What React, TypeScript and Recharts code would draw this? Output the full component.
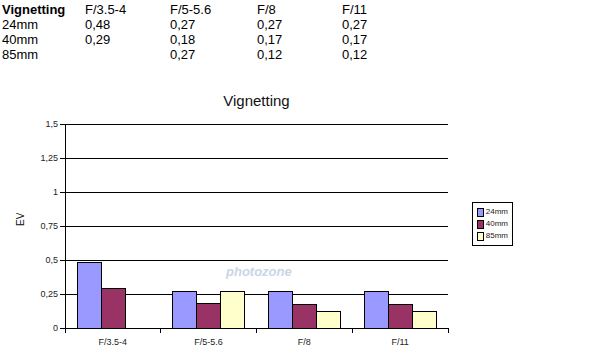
import React from 'react';
import { BarChart, Bar, XAxis, YAxis, CartesianGrid } from 'recharts';

const apertures = ['F/3.5-4', 'F/5-5.6', 'F/8', 'F/11'];
const ev24 = [0.48, 0.27, 0.27, 0.27];
const ev40 = [0.29, 0.18, 0.17, 0.17];
const ev85 = [null, 0.27, 0.12, 0.12];
const yTicks = [0, 0.25, 0.5, 0.75, 1, 1.25, 1.5];

const series = [
  { key: 'mm24', name: '24mm', color: '#9999FF', values: ev24 },
  { key: 'mm40', name: '40mm', color: '#993366', values: ev40 },
  { key: 'mm85', name: '85mm', color: '#FFFFCC', values: ev85 },
];

const data = apertures.map((a, i) => ({
  name: a,
  mm24: ev24[i],
  mm40: ev40[i],
  mm85: ev85[i],
}));

const comma = (v: number | null) => (v == null ? '' : String(v).replace('.', ','));

const XTick = (props: any) => {
  const { x, y, payload, index } = props;
  const half = payload.offset || 48;
  return (
    <g>
      <line x1={x - half} y1={y - 8} x2={x - half} y2={y - 3} stroke="#000" />
      {index === apertures.length - 1 && (
        <line x1={x + half} y1={y - 8} x2={x + half} y2={y - 3} stroke="#000" />
      )}
      <text x={x} y={y + 9} textAnchor="middle" fontSize={9} fill="#222">
        {payload.value}
      </text>
    </g>
  );
};

const LegendBox = () => (
  <div
    style={{
      position: 'absolute',
      left: 472,
      top: 202,
      width: 31,
      border: '1px solid #000',
      padding: '3px 4px',
      background: '#fff',
      fontSize: 8,
      lineHeight: '12px',
    }}
  >
    {series.map((s) => (
      <div key={s.key} style={{ display: 'flex', alignItems: 'center' }}>
        <span
          style={{
            display: 'inline-block',
            width: 7,
            height: 7,
            background: s.color,
            border: '1px solid #000',
            marginRight: 2,
          }}
        />
        <span style={{ color: '#222' }}>{s.name}</span>
      </div>
    ))}
  </div>
);

const tableRows = [
  ['24mm', ...ev24.map(comma)],
  ['40mm', ...ev40.map(comma)],
  ['85mm', ...ev85.map(comma)],
];
const colX = [2, 85, 170, 257, 342];

export default function App() {
  return (
    <div
      style={{
        position: 'absolute',
        left: 0,
        top: 0,
        width: 597,
        height: 358,
        background: '#fff',
        fontFamily: 'Liberation Sans, Arial, sans-serif',
      }}
    >
      {[['Vignetting', ...apertures], ...tableRows].map((row, r) => (
        <React.Fragment key={r}>
          {row.map((cell, c) => (
            <div
              key={c}
              style={{
                position: 'absolute',
                left: colX[c],
                top: 2 + r * 15,
                fontSize: 13,
                fontWeight: r === 0 && c === 0 ? 'bold' : 'normal',
                color: '#000',
                whiteSpace: 'nowrap',
              }}
            >
              {cell}
            </div>
          ))}
        </React.Fragment>
      ))}
      <div
        style={{
          position: 'absolute',
          left: 65,
          width: 383,
          top: 92,
          textAlign: 'center',
          fontSize: 15,
          color: '#111',
        }}
      >
        Vignetting
      </div>
      <div
        style={{
          position: 'absolute',
          left: 226,
          top: 264,
          fontSize: 13,
          fontStyle: 'italic',
          color: '#c8d6e6',
          fontWeight: 'bold',
        }}
      >
        photozone
      </div>
      <div style={{ position: 'absolute', left: 0, top: 0, shapeRendering: 'crispEdges' }}>
        <BarChart
          width={597}
          height={358}
          data={data}
          margin={{ top: 124, right: 149, bottom: 0, left: 0 }}
          barCategoryGap={12}
          barGap={0}
        >
          <CartesianGrid vertical={false} stroke="#000" strokeOpacity={1} />
          <XAxis
            dataKey="name"
            height={30}
            axisLine={{ stroke: '#000' }}
            tickLine={false}
            tick={<XTick />}
            interval={0}
          />
          <YAxis
            width={65}
            domain={[0, 1.5]}
            ticks={yTicks}
            interval={0}
            tickFormatter={comma}
            axisLine={{ stroke: '#000' }}
            tickLine={{ stroke: '#000' }}
            tickSize={5}
            tick={{ fontSize: 9, fill: '#222' }}
            label={{ value: 'EV', angle: -90, position: 'insideLeft', offset: 20, fontSize: 10, fill: '#111' }}
          />
          {series.map((s) => (
            <Bar
              key={s.key}
              dataKey={s.key}
              name={s.name}
              fill={s.color}
              stroke="#000"
              strokeWidth={1}
              isAnimationActive={false}
            />
          ))}
        </BarChart>
      </div>
      <LegendBox />
    </div>
  );
}
